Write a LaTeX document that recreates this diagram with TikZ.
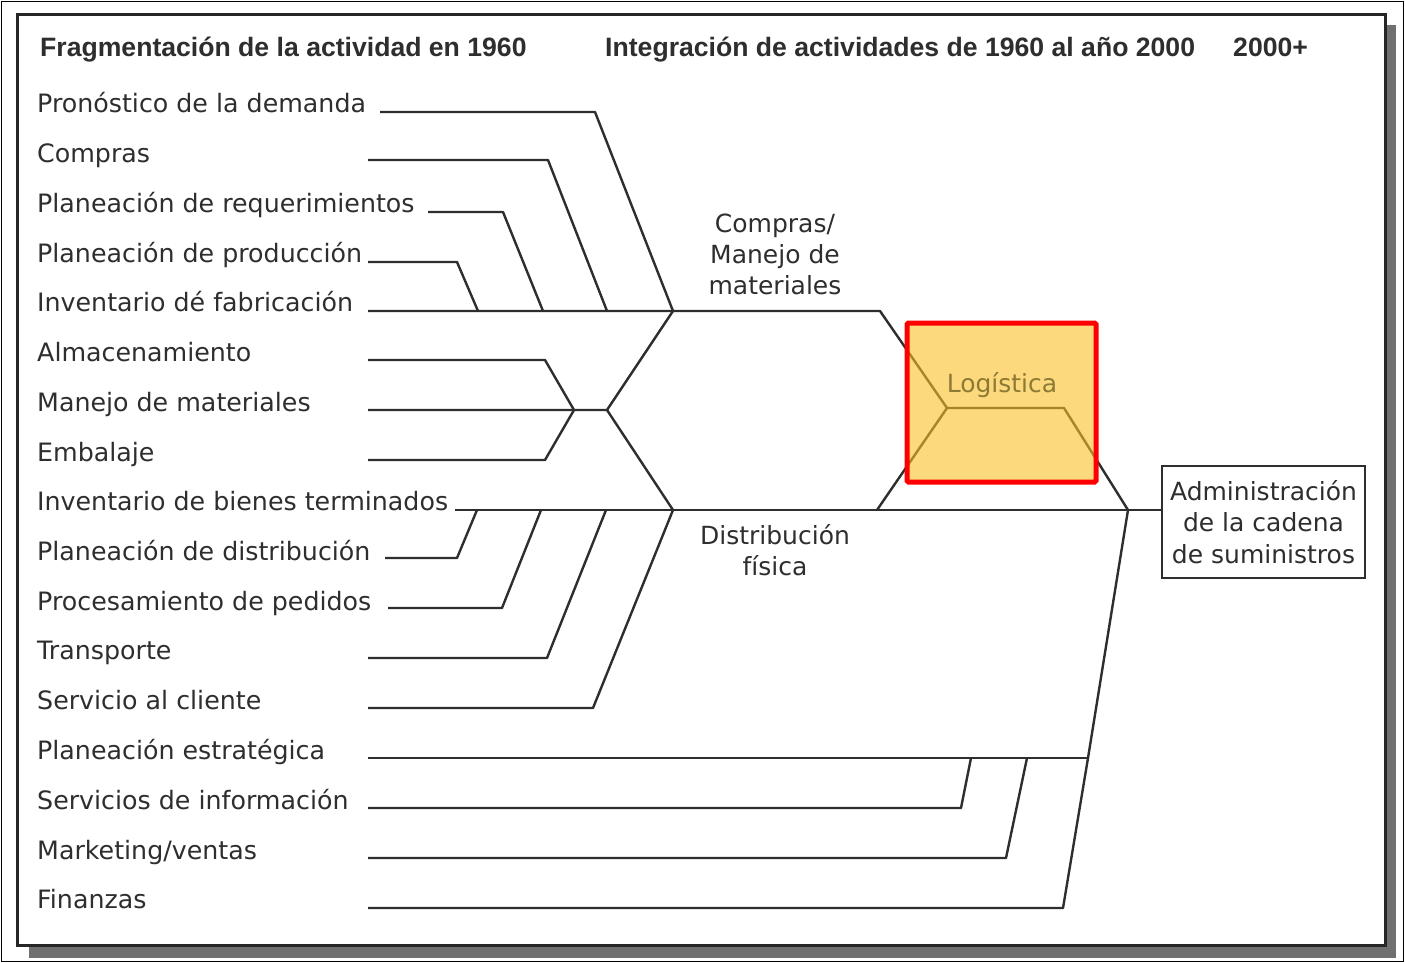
\documentclass[tikz,border=0pt]{standalone}
\usepackage{fontspec}
\setmainfont{DejaVu Sans}
\newfontfamily\headfont{Liberation Sans}
\definecolor{ink}{HTML}{2E2E2E}
\definecolor{logfill}{RGB}{250,192,37}
\definecolor{logtext}{HTML}{8C7A35}
\definecolor{shadowc}{HTML}{707070}
\begin{document}
\begin{tikzpicture}[x=1pt,y=-1pt,
  lbl/.style={anchor=base west, inner sep=0pt, font=\fontsize{25.3}{31}\selectfont, text=ink},
  hdr/.style={anchor=base west, inner sep=0pt, font=\headfont\bfseries\fontsize{26.6}{30}\selectfont, text=ink},
  mid/.style={align=center, inner sep=0pt, font=\fontsize{25}{31}\selectfont, text=ink},
  conn/.style={draw=ink, line width=2.4, line join=round},
]
\useasboundingbox (0,0) rectangle (1405,963);
% outer thin border
\draw[line width=1.4, black] (1.5,1.5) rectangle (1403.5,961.5);
% shadow and frame
\fill[shadowc] (29,25) rectangle (1396,958);
\fill[white] (17,15) rectangle (1385,945);
\draw[line width=3, black!85] (17,15) rectangle (1385,945);

% headers
\node[hdr] (h1) at (40,57) {Fragmentación de la actividad en 1960};
\node[hdr] (h2) at (605,57) {Integración de actividades de 1960 al año 2000};
\node[hdr] (h3) at (1233,57) {2000+};

% labels
\node[lbl] (l1) at (37,113) {Pronóstico de la demanda};
\node[lbl] (l2) at (37,162) {Compras};
\node[lbl] (l3) at (37,212) {Planeación de requerimientos};
\node[lbl] (l4) at (37,262) {Planeación de producción};
\node[lbl] (l5) at (37,311) {Inventario dé fabricación};
\node[lbl] (l6) at (37,361) {Almacenamiento};
\node[lbl] (l7) at (37,411) {Manejo de materiales};
\node[lbl] (l8) at (37,461) {Embalaje};
\node[lbl] (l9) at (37,510) {Inventario de bienes terminados};
\node[lbl] (l10) at (37,560) {Planeación de distribución};
\node[lbl] (l11) at (37,610) {Procesamiento de pedidos};
\node[lbl] (l12) at (37,659) {Transporte};
\node[lbl] (l13) at (37,709) {Servicio al cliente};
\node[lbl] (l14) at (37,759) {Planeación estratégica};
\node[lbl] (l15) at (37,809) {Servicios de información};
\node[lbl] (l16) at (37,859) {Marketing/ventas};
\node[lbl] (l17) at (37,908) {Finanzas};

% middle labels
\node[mid] (cm) at (775,254) {Compras/\\Manejo de\\materiales};
\node[mid] (df) at (775,550) {Distribución\\física};

% admin box
\node[draw=ink, line width=2, minimum width=203, minimum height=112, align=center,
      inner sep=0pt, font=\fontsize{25}{31.5}\selectfont, text=ink] (adm) at (1263.5,522)
      {Administración\\de la cadena\\de suministros};

% start points
\coordinate (s1) at (380,112);  \coordinate (b1) at (595,112);
\coordinate (s2) at (368,160);  \coordinate (b2) at (548,160);
\coordinate (s3) at (428,212);  \coordinate (b3) at (503,212);
\coordinate (s4) at (368,262);  \coordinate (b4) at (457,262);
\coordinate (s5) at (368,311);
\coordinate (s6) at (368,360);  \coordinate (b6) at (545,360);
\coordinate (s7) at (368,410);
\coordinate (s8) at (368,460);  \coordinate (b8) at (545,460);
\coordinate (s9) at (455,510);
\coordinate (s10) at (385,558); \coordinate (b10) at (457,558);
\coordinate (s11) at (388,608); \coordinate (b11) at (502,608);
\coordinate (s12) at (368,658); \coordinate (b12) at (547,658);
\coordinate (s13) at (368,708); \coordinate (b13) at (593,708);
\coordinate (s14) at (368,758);
\coordinate (s15) at (368,808); \coordinate (b15) at (961,808);
\coordinate (s16) at (368,858); \coordinate (b16) at (1006,858);
\coordinate (s17) at (368,908); \coordinate (b17) at (1063,908);
% junctions
\coordinate (jA) at (673,311);
\coordinate (jB) at (607,311);
\coordinate (jC) at (543,311);
\coordinate (jD) at (478,311);
\coordinate (jE) at (574,410);
\coordinate (jF) at (607,410);
\coordinate (jG) at (673,510);
\coordinate (jH) at (477,510);
\coordinate (jI) at (541,510);
\coordinate (jJ) at (606,510);
\coordinate (jK) at (880,311);
\coordinate (jL) at (947,408);
\coordinate (jM) at (1064,408);
\coordinate (jN) at (877,510);
\coordinate (jO) at (1128,510);
\coordinate (jP) at (1088,758);
\coordinate (jQ) at (971,758);
\coordinate (jR) at (1027,758);

% connectors
\draw[conn] (s1) -- (b1) -- (jA);
\draw[conn] (s2) -- (b2) -- (jB);
\draw[conn] (s3) -- (b3) -- (jC);
\draw[conn] (s4) -- (b4) -- (jD);
\draw[conn] (s5) -- (jK) -- (jL);
\draw[conn] (s6) -- (b6) -- (jE);
\draw[conn] (s7) -- (jE) -- (jF) -- (jA);
\draw[conn] (jF) -- (jG);
\draw[conn] (s8) -- (b8) -- (jE);
\draw[conn] (s9) -- (s9 -| adm.west);
\draw[conn] (jN) -- (jL) -- (jM) -- (jO);
\draw[conn] (s10) -- (b10) -- (jH);
\draw[conn] (s11) -- (b11) -- (jI);
\draw[conn] (s12) -- (b12) -- (jJ);
\draw[conn] (s13) -- (b13) -- (jG);
\draw[conn] (s14) -- (jP);
\draw[conn] (s15) -- (b15) -- (jQ);
\draw[conn] (s16) -- (b16) -- (jR);
\draw[conn] (s17) -- (b17) -- (jP) -- (jO);

% Logistica highlight
\fill[logfill, fill opacity=0.6] (907,323) rectangle (1096,482);
\node[font=\fontsize{25}{30}\selectfont, text=logtext, inner sep=0pt] (log) at (1002,385) {Logística};
\draw[red, line width=5, rounded corners=1.5] (907,323) rectangle (1096,482);
\end{tikzpicture}
\end{document}
